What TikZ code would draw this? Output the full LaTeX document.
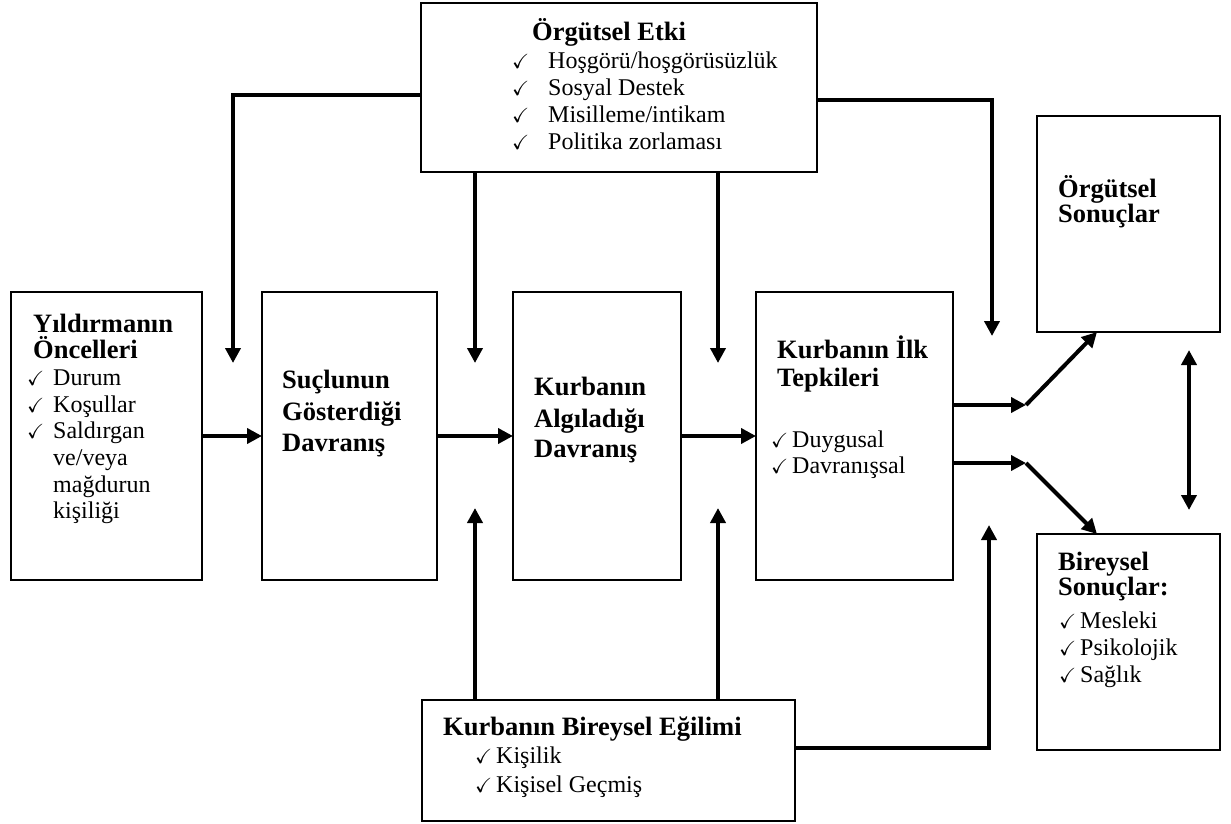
\documentclass[tikz,border=0pt]{standalone}
\usepackage{amssymb}
\usepackage{fontspec}
\setmainfont{Liberation Serif}
\usetikzlibrary{arrows.meta}
\tikzset{
 box/.style={draw, line width=2pt, inner sep=0pt, outer sep=0pt},
 conn/.style={line width=4pt},
 arr/.style={conn, -{Triangle[length=15pt,width=15pt]}},
 darr/.style={conn, {Triangle[length=15pt,width=15pt]}-{Triangle[length=15pt,width=15pt]}},
 hd/.style={anchor=base west, inner sep=0pt, font=\fontsize{26.5}{30}\selectfont\bfseries},
 it/.style={anchor=base west, inner sep=0pt, font=\fontsize{24}{27}\selectfont},
 ck/.style={anchor=base west, inner sep=0pt, font=\fontsize{20.5}{24}\selectfont},
}
\begin{document}
\begin{tikzpicture}[x=1pt,y=-1pt]
\useasboundingbox (0,0) rectangle (1231,823);
% boxes
\node[box, minimum width=396pt, minimum height=169pt] (top) at (619,87.5) {};
\node[box, minimum width=191pt, minimum height=288pt] (ante) at (106.5,436) {};
\node[box, minimum width=175pt, minimum height=288pt] (sucl) at (349.5,436) {};
\node[box, minimum width=168pt, minimum height=288pt] (algi) at (597,436) {};
\node[box, minimum width=197pt, minimum height=288pt] (tepk) at (854.5,436) {};
\node[box, minimum width=183pt, minimum height=216pt] (orgs) at (1128.5,224) {};
\node[box, minimum width=183pt, minimum height=216pt] (birs) at (1128.5,642) {};
\node[box, minimum width=373pt, minimum height=121pt] (bot) at (608.5,760.5) {};
% top box text
\node[hd] (tH) at (532,40) {Örgütsel Etki};
\node[ck] (tk1) at (512,68) {$\checkmark$};
\node[ck] (tk2) at (512,95) {$\checkmark$};
\node[ck] (tk3) at (512,122) {$\checkmark$};
\node[ck] (tk4) at (512,149) {$\checkmark$};
\node[it] (ti1) at (548,68) {Hoşgörü/hoşgörüsüzlük};
\node[it] (ti2) at (548,95) {Sosyal Destek};
\node[it] (ti3) at (548,122) {Misilleme/intikam};
\node[it] (ti4) at (548,149) {Politika zorlaması};
% antecedents
\node[hd] (aH1) at (33,332) {Yıldırmanın};
\node[hd] (aH2) at (33,358) {Öncelleri};
\node[ck] (ak1) at (27,385) {$\checkmark$};
\node[ck] (ak2) at (27,412) {$\checkmark$};
\node[ck] (ak3) at (27,438) {$\checkmark$};
\node[it] (ai1) at (53,385) {Durum};
\node[it] (ai2) at (53,412) {Koşullar};
\node[it] (ai3) at (53,438) {Saldırgan};
\node[it] (ai4) at (53,465) {ve/veya};
\node[it] (ai5) at (53,492) {mağdurun};
\node[it] (ai6) at (53,518) {kişiliği};
% perpetrator behaviour
\node[hd] (sH1) at (282,388) {Suçlunun};
\node[hd] (sH2) at (282,420) {Gösterdiği};
\node[hd] (sH3) at (282,451) {Davranış};
% perceived behaviour
\node[hd] (gH1) at (534,395) {Kurbanın};
\node[hd] (gH2) at (534,427) {Algıladığı};
\node[hd] (gH3) at (534,457) {Davranış};
% first reactions
\node[hd] (rH1) at (777,358) {Kurbanın İlk};
\node[hd] (rH2) at (777,386) {Tepkileri};
\node[ck] (rk1) at (771,447) {$\checkmark$};
\node[ck] (rk2) at (771,473) {$\checkmark$};
\node[it] (ri1) at (792,447) {Duygusal};
\node[it] (ri2) at (792,473) {Davranışsal};
% organisational outcomes
\node[hd] (oH1) at (1058,197) {Örgütsel};
\node[hd] (oH2) at (1058,222) {Sonuçlar};
% individual outcomes
\node[hd] (bH1) at (1058,570) {Bireysel};
\node[hd] (bH2) at (1058,595) {Sonuçlar:};
\node[ck] (bk1) at (1059,628) {$\checkmark$};
\node[ck] (bk2) at (1059,655) {$\checkmark$};
\node[ck] (bk3) at (1059,682) {$\checkmark$};
\node[it] (bi1) at (1080,628) {Mesleki};
\node[it] (bi2) at (1080,655) {Psikolojik};
\node[it] (bi3) at (1080,682) {Sağlık};
% bottom box
\node[hd] (dH) at (443,735) {Kurbanın Bireysel Eğilimi};
\node[ck] (dk1) at (475,763) {$\checkmark$};
\node[ck] (dk2) at (475,792) {$\checkmark$};
\node[it] (di1) at (496,763) {Kişilik};
\node[it] (di2) at (496,792) {Kişisel Geçmiş};
% coordinates for free ends
\coordinate (c1) at (233,363);
\coordinate (c2) at (475,363);
\coordinate (c3) at (718,363);
\coordinate (c4) at (992,336);
\coordinate (c5) at (475,508);
\coordinate (c6) at (718,508);
\coordinate (c7) at (989,525);
\coordinate (j1) at (1026,405);
\coordinate (j2) at (1026,463);
\coordinate (t1) at (1097,0);
\coordinate (d1) at (1189,350);
\coordinate (d2) at (1189,510);
% connectors
\draw[arr] (top.west |- 0,95) -| (c1);
\draw[arr] (top.south -| c2) -- (c2);
\draw[arr] (top.south -| c3) -- (c3);
\draw[arr] (top.east |- 0,100) -| (c4);
\draw[arr] (ante.east) -- (sucl.west);
\draw[arr] (sucl.east) -- (algi.west);
\draw[arr] (algi.east) -- (tepk.west);
\draw[arr] (tepk.east |- j1) -- (j1);
\draw[arr] (tepk.east |- j2) -- (j2);
\draw[arr] (j1) -- (orgs.south -| t1);
\draw[arr] (j2) -- (birs.north -| t1);
\draw[darr] (d1) -- (d2);
\draw[arr] (bot.north -| c5) -- (c5);
\draw[arr] (bot.north -| c6) -- (c6);
\draw[arr] (bot.east |- 0,748) -| (c7);
\end{tikzpicture}
\end{document}
